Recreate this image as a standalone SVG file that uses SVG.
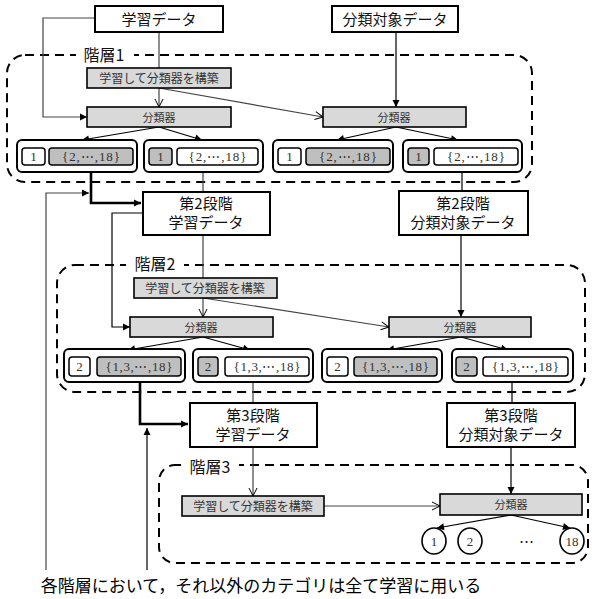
<svg xmlns="http://www.w3.org/2000/svg" width="592" height="599" viewBox="0 0 592 599">
<style>
.bg{fill:#fff}
.box{fill:#fff;stroke:#000;stroke-width:2}
.gbox{fill:#d9d9d9;stroke:#000;stroke-width:1.6}
.grp{fill:#fff;stroke:#000;stroke-width:2}
.inw{fill:#fff;stroke:#000;stroke-width:1.5}
.ing{fill:#bfbfbf;stroke:#000;stroke-width:1.5}
.dash{fill:none;stroke:#000;stroke-width:2;stroke-dasharray:9 6}
.jp{font-family:"Noto Sans CJK JP","Noto Sans",sans-serif;text-anchor:middle}
.t15{font-size:15px;fill:#111}
.t12{font-size:12px;fill:#333}
.t11{font-size:11px;fill:#333}
.lab{font-size:16px;fill:#111}
.num{font-family:"Liberation Serif","DejaVu Serif",serif;font-size:13px;fill:#333;text-anchor:middle}
.ln{fill:none;stroke:#444;stroke-width:1.2}
.lnk{fill:none;stroke:#000;stroke-width:1.2}
.thick{fill:none;stroke:#000;stroke-width:2.6}
.circ{fill:#fff;stroke:#000;stroke-width:1.6}
</style>
<defs>
<marker id="af" markerUnits="userSpaceOnUse" markerWidth="10" markerHeight="10" refX="8" refY="5" orient="auto">
<path d="M1,1.5 L8,5 L1,8.5 Z" fill="#000"/>
</marker>
<marker id="ao" markerUnits="userSpaceOnUse" markerWidth="12" markerHeight="12" refX="9" refY="6" orient="auto">
<path d="M1,2 L9,6 L1,10" fill="none" stroke="#000" stroke-width="1"/>
</marker>
</defs>
<rect width="592" height="599" fill="#fff"/>

<g id="layers">
<rect class="dash" x="7" y="55" width="525" height="127" rx="18"/>
<rect class="bg" x="76" y="46" width="58" height="18"/>
<text class="jp lab" x="104" y="61">階層1</text>
<rect class="dash" x="57" y="265" width="528" height="127" rx="18"/>
<rect class="bg" x="126" y="255" width="58" height="18"/>
<text class="jp lab" x="155" y="270">階層2</text>
<rect class="dash" x="159" y="465" width="429" height="98" rx="16"/>
<rect class="bg" x="181" y="457" width="58" height="18"/>
<text class="jp lab" x="210" y="473">階層3</text>
</g>

<g id="connectors">
<path class="ln" d="M159,32 V68"/>
<path class="ln" d="M95,18 H43 V117 H87" marker-end="url(#af)"/>
<path class="ln" d="M159,88 V107" marker-end="url(#ao)"/>
<path class="ln" d="M159,88 L323,117" marker-end="url(#ao)"/>
<path class="lnk" d="M396,32 V107" marker-end="url(#af)"/>
<path class="lnk" d="M159,127 L82,140" marker-end="url(#af)"/>
<path class="lnk" d="M159,127 L202,140" marker-end="url(#af)"/>
<path class="lnk" d="M396,127 L337,140" marker-end="url(#af)"/>
<path class="lnk" d="M396,127 L458,140" marker-end="url(#af)"/>
<path class="thick" d="M91,172 V203 H141" marker-end="url(#af)"/>
<path class="ln" d="M46,570 V193 H89" marker-end="url(#af)"/>
<path class="ln" d="M203,172 V192"/>
<path class="lnk" d="M462,172 V191"/>
<path class="lnk" d="M143,213 H112 V327 H130" marker-end="url(#af)"/>
<path class="ln" d="M203,235 V278"/>
<path class="lnk" d="M461,235 V317" marker-end="url(#af)"/>
<path class="ln" d="M203,298 V317" marker-end="url(#ao)"/>
<path class="ln" d="M203,298 L389,327" marker-end="url(#ao)"/>
<path class="lnk" d="M203,337 L128,350" marker-end="url(#af)"/>
<path class="lnk" d="M203,337 L250,350" marker-end="url(#af)"/>
<path class="lnk" d="M461,337 L387,350" marker-end="url(#af)"/>
<path class="lnk" d="M461,337 L508,350" marker-end="url(#af)"/>
<path class="thick" d="M140,382 V424 H188" marker-end="url(#af)"/>
<path class="lnk" d="M147,570 V428" marker-end="url(#af)"/>
<path class="ln" d="M253,382 V403"/>
<path class="lnk" d="M512,382 V403"/>
<path class="ln" d="M253,447 V496" marker-end="url(#ao)"/>
<path class="lnk" d="M511,447 V494" marker-end="url(#af)"/>
<path class="ln" d="M324,506 H440" marker-end="url(#ao)"/>
<path class="lnk" d="M511,515 L437,528" marker-end="url(#af)"/>
<path class="lnk" d="M511,515 L570,528" marker-end="url(#af)"/>
</g>

<g id="train-data">
<rect class="box" x="95" y="6" width="128" height="26"/>
<text class="jp t15" x="159" y="25">学習データ</text>
</g>
<g id="target-data">
<rect class="box" x="332" y="6" width="126" height="26"/>
<text class="jp t15" x="395" y="25">分類対象データ</text>
</g>

<g id="build1">
<rect class="gbox" x="87" y="68" width="144" height="20"/>
<text class="jp t12" x="159" y="82.5">学習して分類器を構築</text>
</g>
<g id="clf1L">
<rect class="gbox" x="87" y="107" width="144" height="20"/>
<text class="jp t11" x="159" y="121.5">分類器</text>
</g>
<g id="clf1R">
<rect class="gbox" x="323" y="107" width="143" height="20"/>
<text class="jp t11" x="394" y="121.5">分類器</text>
</g>

<g id="g1a">
<rect class="grp" x="17" y="140" width="120" height="32" rx="5"/>
<rect class="inw" x="22" y="148" width="23" height="17" rx="3"/>
<text class="num" x="33.5" y="161">1</text>
<rect class="ing" x="49" y="148" width="84" height="17" rx="3"/>
<text class="num" x="91" y="161" textLength="58" lengthAdjust="spacing">{2,⋯,18}</text>
</g>
<g id="g1b">
<rect class="grp" x="144" y="140" width="119" height="32" rx="5"/>
<rect class="ing" x="149" y="148" width="23" height="17" rx="3"/>
<text class="num" x="160.5" y="161">1</text>
<rect class="inw" x="177" y="148" width="81" height="17" rx="3"/>
<text class="num" x="217.5" y="161" textLength="58" lengthAdjust="spacing">{2,⋯,18}</text>
</g>
<g id="g1c">
<rect class="grp" x="273" y="140" width="120" height="32" rx="5"/>
<rect class="inw" x="278" y="148" width="23" height="17" rx="3"/>
<text class="num" x="289.5" y="161">1</text>
<rect class="ing" x="306" y="148" width="84" height="17" rx="3"/>
<text class="num" x="348" y="161" textLength="58" lengthAdjust="spacing">{2,⋯,18}</text>
</g>
<g id="g1d">
<rect class="grp" x="403" y="140" width="119" height="32" rx="5"/>
<rect class="ing" x="408" y="148" width="21" height="17" rx="3"/>
<text class="num" x="418.5" y="161">1</text>
<rect class="inw" x="434" y="148" width="84" height="17" rx="3"/>
<text class="num" x="476" y="161" textLength="58" lengthAdjust="spacing">{2,⋯,18}</text>
</g>

<g id="train2">
<rect class="box" x="143" y="192" width="127" height="43"/>
<text class="jp t15" x="206" y="209">第2段階</text>
<text class="jp t15" x="206" y="228">学習データ</text>
</g>
<g id="target2">
<rect class="box" x="399" y="191" width="129" height="44"/>
<text class="jp t15" x="463" y="209">第2段階</text>
<text class="jp t15" x="463" y="228">分類対象データ</text>
</g>

<g id="build2">
<rect class="gbox" x="134" y="278" width="143" height="20"/>
<text class="jp t12" x="205" y="292.5">学習して分類器を構築</text>
</g>
<g id="clf2L">
<rect class="gbox" x="130" y="317" width="143" height="20"/>
<text class="jp t11" x="201" y="331.5">分類器</text>
</g>
<g id="clf2R">
<rect class="gbox" x="389" y="317" width="142" height="20"/>
<text class="jp t11" x="460" y="331.5">分類器</text>
</g>

<g id="g2a">
<rect class="grp" x="64" y="349" width="121" height="33" rx="5"/>
<rect class="inw" x="69" y="357" width="21" height="19" rx="3"/>
<text class="num" x="79.5" y="371">2</text>
<rect class="ing" x="97" y="357" width="84" height="19" rx="3"/>
<text class="num" x="139" y="371" textLength="67" lengthAdjust="spacing">{1,3,⋯,18}</text>
</g>
<g id="g2b">
<rect class="grp" x="193" y="349" width="120" height="33" rx="5"/>
<rect class="ing" x="198" y="357" width="20" height="19" rx="3"/>
<text class="num" x="208" y="371">2</text>
<rect class="inw" x="225" y="357" width="84" height="19" rx="3"/>
<text class="num" x="267" y="371" textLength="67" lengthAdjust="spacing">{1,3,⋯,18}</text>
</g>
<g id="g2c">
<rect class="grp" x="322" y="349" width="120" height="33" rx="5"/>
<rect class="inw" x="327" y="357" width="21" height="19" rx="3"/>
<text class="num" x="337.5" y="371">2</text>
<rect class="ing" x="354" y="357" width="83" height="19" rx="3"/>
<text class="num" x="395.5" y="371" textLength="67" lengthAdjust="spacing">{1,3,⋯,18}</text>
</g>
<g id="g2d">
<rect class="grp" x="452" y="349" width="121" height="33" rx="5"/>
<rect class="ing" x="456" y="357" width="21" height="19" rx="3"/>
<text class="num" x="466.5" y="371">2</text>
<rect class="inw" x="483" y="357" width="85" height="19" rx="3"/>
<text class="num" x="525.5" y="371" textLength="67" lengthAdjust="spacing">{1,3,⋯,18}</text>
</g>

<g id="train3">
<rect class="box" x="190" y="403" width="127" height="44"/>
<text class="jp t15" x="253" y="421">第3段階</text>
<text class="jp t15" x="253" y="440">学習データ</text>
</g>
<g id="target3">
<rect class="box" x="447" y="403" width="128" height="44"/>
<text class="jp t15" x="511" y="421">第3段階</text>
<text class="jp t15" x="511" y="440">分類対象データ</text>
</g>

<g id="build3">
<rect class="gbox" x="182" y="496" width="142" height="20"/>
<text class="jp t12" x="253" y="510.5">学習して分類器を構築</text>
</g>
<g id="clf3">
<rect class="gbox" x="440" y="494" width="142" height="21"/>
<text class="jp t11" x="511" y="508.5">分類器</text>
</g>

<g id="c1"><ellipse class="circ" cx="434" cy="541" rx="12" ry="13"/><text class="num" x="434" y="546">1</text></g>
<g id="c2"><ellipse class="circ" cx="470" cy="541" rx="12" ry="13"/><text class="num" x="470" y="546">2</text></g>
<text class="num" x="526" y="546" style="font-size:15px;fill:#111">⋯</text>
<g id="c18"><ellipse class="circ" cx="572" cy="541" rx="12" ry="13"/><text class="num" x="572" y="546">18</text></g>

<text class="jp" x="261" y="592" style="font-size:17px;fill:#000">各階層において，それ以外のカテゴリは全て学習に用いる</text>
</svg>
